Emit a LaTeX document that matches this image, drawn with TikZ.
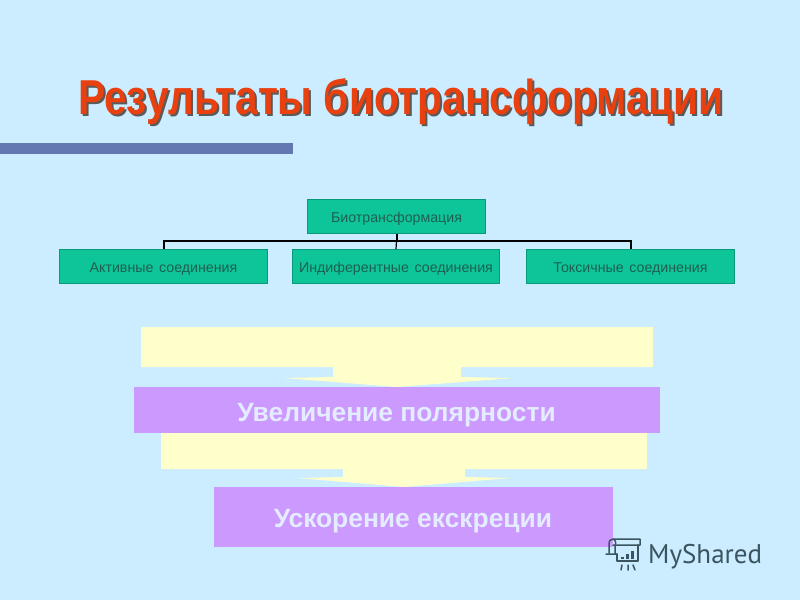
\documentclass[tikz,border=0pt]{standalone}
\usepackage{fontspec}
\setmainfont{Liberation Sans}
\newfontfamily\wmfont{PT Sans}
\definecolor{bgc}{HTML}{CCECFF}
\definecolor{barc}{HTML}{6478B0}
\definecolor{titlec}{HTML}{E8400F}
\definecolor{shadowc}{HTML}{5A5A5A}
\definecolor{greenc}{HTML}{0DC598}
\definecolor{greenl}{HTML}{0A9A78}
\definecolor{greentxt}{HTML}{1F5F52}
\definecolor{yellowc}{HTML}{FFFFCC}
\definecolor{purplec}{HTML}{CC99FF}
\definecolor{lighttxt}{HTML}{E4ECFF}
\definecolor{wmc}{HTML}{3A5560}
\newcommand{\gsp}{\hspace{.4em}}
\tikzset{
  greenbox/.style={draw=greenl,line width=.6pt,fill=greenc,inner sep=0pt,text=greentxt,text height=11pt,text depth=0pt,font=\fontsize{14.2}{16}\selectfont},
  purplebox/.style={fill=purplec,inner sep=0pt},
  purpletext/.style={font=\bfseries\fontsize{26.4}{30}\selectfont,text=lighttxt,inner sep=0pt},
  link/.style={draw=black,line width=2pt},
  yarrow/.style={fill=yellowc,draw=none},
  titletext/.style={font=\bfseries\fontsize{49}{54}\selectfont,inner sep=0pt,anchor=base}
}
\begin{document}
\begin{tikzpicture}[x=1pt,y=-1pt]
\useasboundingbox (0,0) rectangle (800,600);
\fill[bgc] (0,0) rectangle (800,600);
\fill[barc] (0,143) rectangle (293,154);
% title
\node[titletext,text=shadowc,xscale=.83] (titleshadow) at (403,116.5) {Результаты биотрансформации};
\node[titletext,text=titlec,xscale=.83] (title) at (401,114.5) {Результаты биотрансформации};
% org chart
\node[greenbox,minimum width=178pt,minimum height=34pt] (top) at (396.5,216.5) {Биотрансформация};
\node[greenbox,minimum width=208pt,minimum height=34pt] (a) at (163.5,266.5) {Активные\gsp соединения};
\node[greenbox,minimum width=207pt,minimum height=34pt] (b) at (396,266.5) {Индиферентные\gsp соединения};
\node[greenbox,minimum width=208pt,minimum height=34pt] (c) at (630.5,266.5) {Токсичные\gsp соединения};
\coordinate (j) at (top.south|-0,241);
\draw[link] (top.south) -- (j);
\draw[link,line width=1.2pt] (j) -- (b.north);
\draw[link] (a.north) |- (j) -| (c.north);
% yellow arrows
\fill[yarrow] (141,327) -- (653,327) -- (653,367) -- (461,367) -- (461,377) -- (513,378) -- (397,387) -- (283,378) -- (333,377) -- (333,367) -- (141,367) -- cycle;
\fill[yarrow] (161,433) -- (647,433) -- (647,469) -- (465,469) -- (465,477) -- (510,478) -- (404,487) -- (297,478) -- (343,477) -- (343,469) -- (161,469) -- cycle;
% purple boxes
\node[purplebox,minimum width=526pt,minimum height=46pt] (p1) at (397,410) {};
\node[purpletext] (p1t) at (396.5,415) {Увеличение полярности};
\node[purplebox,minimum width=399pt,minimum height=60pt] (p2) at (413.5,517) {};
\node[purpletext] (p2t) at (413,521) {Ускорение\ екскреции};
% watermark
\begin{scope}[draw=wmc,line width=1.5pt,line cap=round,line join=round]
  \draw (609,553) -- (609,544) .. controls (609,540) and (611,539) .. (614,539) -- (640,539) -- (640,545) -- (613,545);
  \draw (613,539) .. controls (616,540) and (616,543) .. (615,547) -- (615,554) (606,554) -- (617,554);
  \draw (617,554) -- (617,561) -- (638,561) -- (638,545);
  \draw (622,565) -- (621,570) (628,565) -- (628,570) (633,565) -- (635,570);
  \fill[wmc] (621,556.5) rectangle (624,559);
  \fill[wmc] (626,554) rectangle (629,559);
  \fill[wmc] (631,551) rectangle (634,559);
\end{scope}
\node[font=\wmfont\fontsize{27}{30}\selectfont,text=wmc,anchor=base west,inner sep=0pt] (wm) at (648,563.5) {MyShared};
\end{tikzpicture}
\end{document}
